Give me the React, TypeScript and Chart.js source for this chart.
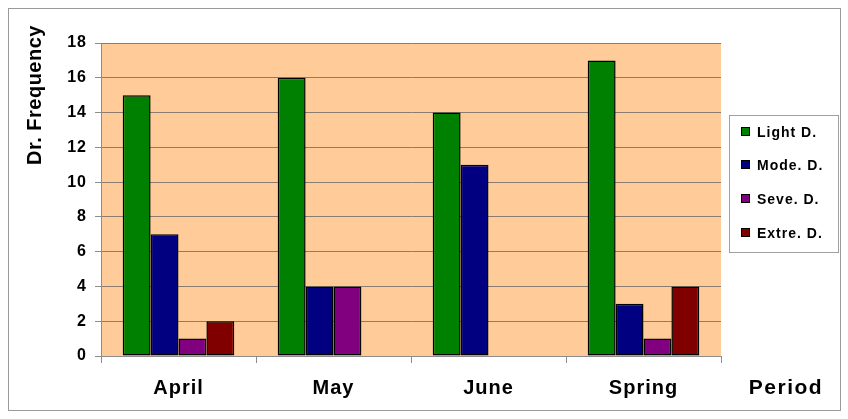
import React, { useEffect, useRef } from "react";
import { Chart, registerables } from "chart.js";

Chart.register(...registerables);

const categories = ["April", "May", "June", "Spring"];
const seriesNames = ["Light D.", "Mode. D.", "Seve. D.", "Extre. D."];
const lightD = [15, 16, 14, 17];
const modeD = [7, 4, 11, 3];
const seveD = [1, 4, 0, 1];
const extreD = [2, 0, 0, 4];
const seriesColors = ["#008000", "#000080", "#800080", "#800000"];
const yTicks = [0, 2, 4, 6, 8, 10, 12, 14, 16, 18];

const FONT = "Arial, 'Liberation Sans', sans-serif";

const decorPlugin = {
  id: "decor",
  beforeDraw(chart: any) {
    const { ctx, chartArea } = chart;
    ctx.letterSpacing = "1px";
    ctx.save();
    ctx.fillStyle = "#ffffff";
    ctx.fillRect(0, 0, chart.width, chart.height);
    ctx.fillStyle = "#FFCC99";
    ctx.fillRect(chartArea.left, chartArea.top, chartArea.right - chartArea.left, chartArea.bottom - chartArea.top);
    ctx.restore();
  },
  afterDraw(chart: any) {
    const { ctx } = chart;
    ctx.save();
    ctx.strokeStyle = "#9a9a9a";
    ctx.lineWidth = 1;
    ctx.strokeRect(0.5, 0.5, chart.width - 1, chart.height - 1);
    ctx.fillStyle = "#000";
    ctx.font = `bold 20px ${FONT}`;
    ctx.letterSpacing = "0.5px";
    ctx.textAlign = "center";
    ctx.textBaseline = "middle";
    ctx.translate(27, 87);
    ctx.rotate(-Math.PI / 2);
    ctx.fillText("Dr. Frequency", 0, 0);
    ctx.restore();

    ctx.save();
    ctx.fillStyle = "#000";
    ctx.font = `bold 21px ${FONT}`;
    ctx.letterSpacing = "1.5px";
    ctx.textAlign = "center";
    ctx.textBaseline = "middle";
    ctx.fillText("Period", 778, 380);
    ctx.strokeStyle = "#a0a0a0";
    ctx.lineWidth = 1;
    ctx.strokeRect(721.5, 107.5, 109, 137);
    const ys = [124, 157, 191, 225];
    ctx.font = `bold 14px ${FONT}`;
    ctx.letterSpacing = "1px";
    ctx.textAlign = "left";
    seriesNames.forEach((n, i) => {
      ctx.fillStyle = seriesColors[i];
      ctx.fillRect(733.5, ys[i] - 4.5, 8, 8);
      ctx.strokeStyle = "#000";
      ctx.strokeRect(733.5, ys[i] - 4.5, 8, 8);
      ctx.fillStyle = "#000";
      ctx.fillText(n, 749, ys[i] + 1);
    });
    ctx.restore();
  },
};

export default function App() {
  const ref = useRef<HTMLCanvasElement>(null);
  useEffect(() => {
    if (!ref.current) return;
    const data = [lightD, modeD, seveD, extreD];
    const chart = new Chart(ref.current, {
      type: "bar",
      data: {
        labels: categories,
        datasets: seriesNames.map((n, i) => ({
          label: n,
          data: data[i],
          backgroundColor: seriesColors[i],
          borderColor: "#000000",
          borderWidth: 1.5,
          borderSkipped: false,
          categoryPercentage: 0.72,
          barPercentage: 1.0,
        })),
      },
      options: {
        animation: false,
        responsive: true,
        maintainAspectRatio: false,
        devicePixelRatio: 1,
        layout: { padding: { top: 35, right: 120, left: 0, bottom: 0 } },
        plugins: { legend: { display: false }, tooltip: { enabled: false } },
        scales: {
          x: {
            offset: true,
            grid: {
              offset: true,
              drawOnChartArea: false,
              drawTicks: true,
              tickLength: 7,
              color: "#8c8c8c",
            },
            border: { color: "#8c8c8c" },
            ticks: {
              color: "#000",
              font: { family: FONT, size: 20, weight: "bold" },
              padding: 13,
            },
            afterFit(s: any) {
              s.height = 55;
            },
          },
          y: {
            min: 0,
            max: 18,
            afterBuildTicks(s: any) {
              s.ticks = yTicks.map((v) => ({ value: v }));
            },
            grid: {
              color: "#8a7d70",
              tickColor: "#8c8c8c",
              tickLength: 6,
            },
            border: { color: "#8c8c8c" },
            ticks: {
              color: "#000",
              font: { family: FONT, size: 16, weight: "bold" },
              padding: 8,
            },
            afterFit(s: any) {
              s.width = 93;
            },
          },
        },
      },
      plugins: [decorPlugin],
    });
    return () => chart.destroy();
  }, []);
  return (
    <div style={{ position: "absolute", left: 8, top: 8, width: 833, height: 403 }}>
      <canvas ref={ref} />
    </div>
  );
}
